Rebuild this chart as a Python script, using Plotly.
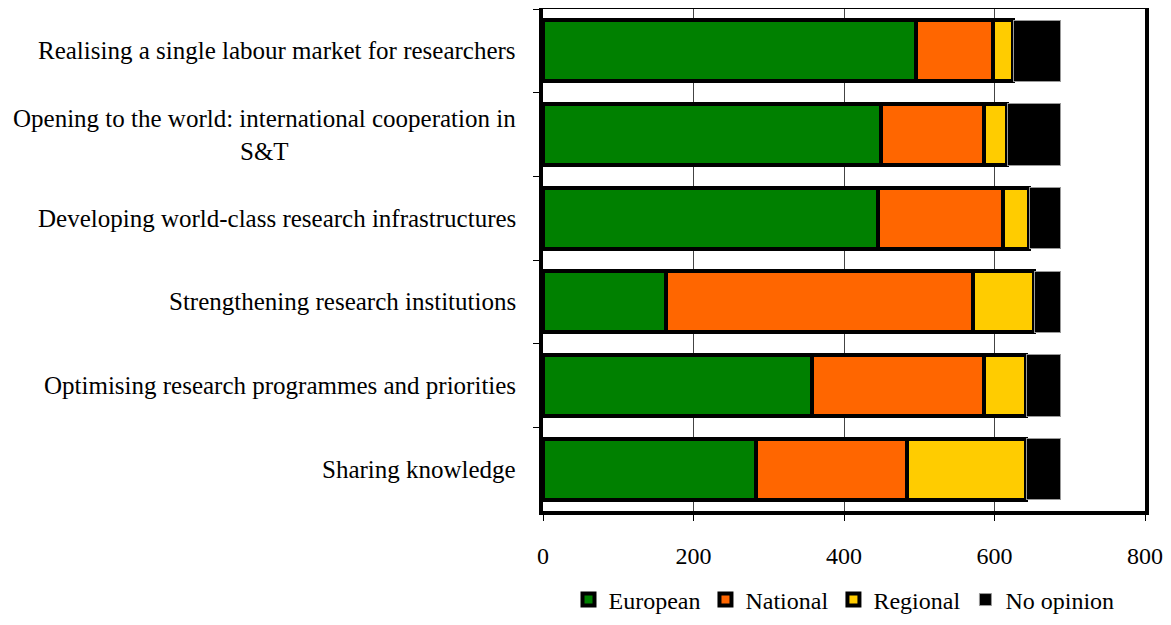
import plotly.graph_objects as go

categories = [
    "Realising a single labour market for researchers",
    "Opening to the world: international cooperation in<br>S&T",
    "Developing world-class research infrastructures",
    "Strengthening research institutions",
    "Optimising research programmes and priorities",
    "Sharing knowledge",
]
european = [496, 449, 445, 163, 357, 283]
national = [102, 137, 166, 408, 229, 201]
regional = [27, 31, 35, 82, 56, 158]
no_opinion = [63, 71, 42, 35, 46, 46]
x_ticks = [0, 200, 400, 600, 800]

FONT = "Liberation Serif, Times New Roman, serif"

series = [
    ("European", european, "#008000", "black", 4),
    ("National", national, "#FF6600", "black", 4),
    ("Regional", regional, "#FFCC00", "black", 4),
    ("No opinion", no_opinion, "#000000", "#999999", 1),
]

fig = go.Figure()
for name, vals, color, lc, lw in series:
    fig.add_trace(go.Bar(
        y=categories, x=vals, name=name, orientation="h",
        marker=dict(color=color, line=dict(color=lc, width=lw)),
    ))

for cat in categories:
    fig.add_annotation(
        x=0, xref="paper", y=cat, yref="y", xanchor="right", xshift=-25,
        align="center", text=cat, showarrow=False,
        font=dict(family=FONT, size=25, color="black"),
    )

fig.update_layout(
    width=1155, height=609,
    margin=dict(l=535, r=18, t=1, b=106, autoexpand=False),
    barmode="stack", bargap=0.27,
    plot_bgcolor="white", paper_bgcolor="white",
    font=dict(family=FONT, size=24, color="black"),
    showlegend=True,
    legend=dict(orientation="h", x=0.5, xanchor="center",
                yref="container", y=0.028, yanchor="middle",
                traceorder="normal",
                font=dict(family=FONT, size=24, color="black"),
                itemwidth=30, tracegroupgap=0),
)
fig.update_xaxes(
    range=[0, 800], tickvals=x_ticks, ticktext=[str(v) for v in x_ticks],
    showgrid=True, gridcolor="#444444", gridwidth=1,
    showline=True, linecolor="black", linewidth=4, mirror=True,
    ticks="outside", ticklen=6, tickcolor="black", tickwidth=1,
    ticklabelstandoff=14, ticklabeloverflow="allow", automargin=False,
    tickfont=dict(family=FONT, size=24, color="black"), zeroline=False,
)
fig.update_yaxes(
    autorange="reversed", showticklabels=False, tickson="boundaries",
    showgrid=False, showline=True, linecolor="black", linewidth=4, mirror=True,
    ticks="outside", ticklen=6, tickcolor="black", tickwidth=1, automargin=False,
)

fig.write_html("out.html")
